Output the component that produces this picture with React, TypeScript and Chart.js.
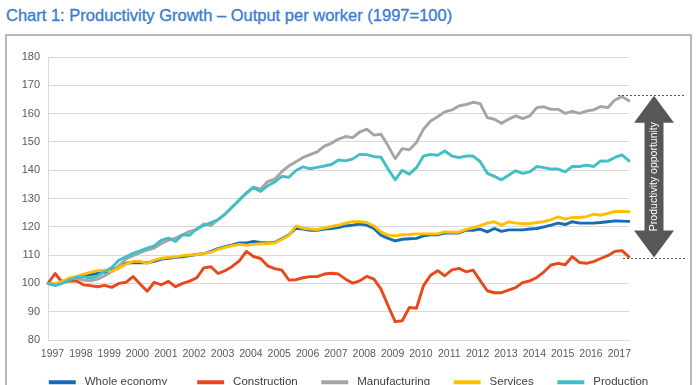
import { useEffect, useRef } from 'react';
import { Chart, registerables } from 'chart.js';

Chart.register(...registerables);

const TITLE = 'Chart 1: Productivity Growth \u2013 Output per worker (1997=100)';
const YEARS = ['1997', '1998', '1999', '2000', '2001', '2002', '2003', '2004', '2005', '2006', '2007', '2008', '2009', '2010', '2011', '2012', '2013', '2014', '2015', '2016', '2017'];
const QUARTER_NAMES = ['Q1', 'Q2', 'Q3', 'Q4'];
const QUARTERS = YEARS.flatMap((y) => QUARTER_NAMES.map((q) => `${y} ${q}`)).slice(0, 83);

const WHOLE_ECONOMY = [
  100, 99.5, 100.4, 101.5, 102.1, 102.7, 103.1, 103.5, 103.9, 104.7, 105.9, 107.1, 107.4, 107.3, 107.3, 107.8, 108.6, 108.9, 109.2, 109.4,
  109.8, 110.2, 110.5, 111.3, 112.3, 113, 113.6, 114.3, 114.3, 114.8, 114.5, 114.3, 114.5, 115.8, 117.2, 119.5, 119.2, 118.8, 118.8, 119.2,
  119.4, 119.7, 120.3, 120.6, 121, 120.6, 119.4, 117, 115.9, 115, 115.6, 115.8, 115.9, 116.8, 117.2, 117.2, 117.8, 117.8, 117.8, 118.8,
  118.8, 119.2, 118.2, 119.4, 118.4, 118.9, 118.9, 118.9, 119.2, 119.4, 120, 120.6, 121.3, 120.8, 121.8, 121.3, 121.3, 121.3, 121.5, 121.8,
  122.1, 122, 121.9,
];
const CONSTRUCTION = [
  100, 103.5, 100.4, 100.8, 100.9, 99.5, 99.2, 98.8, 99.3, 98.6, 100, 100.4, 102.4, 99.8, 97.2, 100.4, 99.5, 100.7, 98.8, 100,
  100.8, 102, 105.5, 105.9, 103.5, 104.5, 106, 108, 111.3, 109.5, 108.8, 106.2, 105.2, 104.7, 101.2, 101.3, 102, 102.4, 102.4, 103.3,
  103.6, 103.3, 101.5, 100.1, 100.9, 102.5, 101.5, 98, 92.1, 86.5, 86.8, 91.5, 91.2, 99.2, 102.9, 104.5, 102.7, 104.8, 105.3, 104.1,
  104.7, 101, 97.4, 96.7, 96.7, 97.6, 98.5, 100.3, 100.9, 102.1, 104.1, 106.5, 107.1, 106.6, 109.5, 107.4, 107.1, 107.7, 108.8, 109.8,
  111.3, 111.6, 109.4,
];
const MANUFACTURING = [
  100, 99.8, 100.4, 101.5, 101.9, 101.2, 100.9, 101.5, 102.7, 104.2, 106.2, 108.6, 109.8, 110.9, 111.8, 112.5, 114.1, 115.3, 116, 117.2,
  118.4, 119, 121, 120.5, 122.5, 124.5, 127, 129.5, 132, 134, 133.3, 136, 136.8, 139.5, 141.5, 143, 144.5, 145.5, 146.5, 148.5,
  149.5, 151, 151.9, 151.5, 153.5, 154.5, 152.4, 152.7, 148.6, 144.1, 147.6, 147.2, 149.8, 154.5, 157.4, 158.9, 160.6, 161.3, 162.7, 163.2,
  164, 163.5, 158.6, 158, 156.6, 158, 159.2, 158.2, 159.2, 162.1, 162.4, 161.5, 161.5, 160.1, 160.8, 160.1, 160.9, 161.3, 162.5, 162.1,
  164.8, 166, 164.5,
];
const SERVICES = [
  100, 99.8, 100.7, 101.9, 102.4, 103.3, 103.9, 104.5, 104.7, 104.2, 105.4, 106.8, 107.8, 107.8, 107.1, 108.2, 108.9, 109.2, 109.4, 109.8,
  110, 110.2, 110.5, 111, 112, 112.7, 113.3, 113.8, 113.5, 113.8, 114, 114, 114.3, 115.5, 117, 120.3, 119.5, 119.2, 119, 119.6,
  120.1, 120.6, 121.3, 121.8, 121.8, 121.5, 120.3, 118.2, 117, 116.8, 117.2, 117.3, 117.5, 117.5, 117.5, 117.5, 118.2, 118.1, 118.1, 119.1,
  119.6, 120.4, 121.3, 121.8, 120.6, 121.8, 121.3, 121.1, 121.1, 121.5, 121.8, 122.5, 123.5, 122.7, 123.3, 123.3, 123.6, 124.5, 124.1, 124.7,
  125.4, 125.4, 125.3,
];
const PRODUCTION = [
  100, 99.2, 100, 101.2, 102.1, 102.4, 101.9, 102.7, 104.2, 105.6, 108.2, 109.4, 110.6, 111.5, 112.5, 113.3, 115.3, 116, 114.8, 117.2,
  117, 119.3, 120.5, 121.5, 122.5, 124.5, 127, 129.5, 131.8, 134, 132.5, 134.5, 135.8, 137.8, 137.5, 139.9, 141.2, 140.5, 141, 141.5,
  142, 143.6, 143.3, 144, 145.6, 145.5, 144.8, 144.6, 140.4, 136.6, 140, 138.6, 140.9, 145, 145.6, 145.3, 146.8, 145, 144.5, 145,
  145, 143, 138.9, 137.8, 136.6, 138.2, 139.8, 138.9, 139.4, 141.3, 140.9, 140.4, 140.4, 139.4, 141.3, 141.3, 141.8, 141.3, 143.3, 143.2,
  144.5, 145.4, 143.3,
];

const SERIES_NAMES = ['Whole economy', 'Construction', 'Manufacturing', 'Services', 'Production'];
const SERIES_VALUES = [WHOLE_ECONOMY, CONSTRUCTION, MANUFACTURING, SERVICES, PRODUCTION];
const SERIES_COLORS = ['#136cb8', '#e8481c', '#a5a5a5', '#ffbf00', '#41bec6'];

const ARROW_RANGE = [108.8, 166.7];
const ARROW_LABEL = 'Productivity opportunity';

const FONT = "'Liberation Sans', Arial, sans-serif";
const LEGEND_LEAD = '\u00a0';
const LEGEND_GAPS = ['\u00a0'.repeat(5), '\u00a0'.repeat(3), '\u00a0'.repeat(3), '\u00a0'.repeat(3), ''];

const arrowPlugin = {
  id: 'productivityArrow',
  afterDraw(chart: any) {
    const { ctx, chartArea, scales } = chart;
    const y = scales.y;
    const top = y.getPixelForValue(ARROW_RANGE[1]);
    const bot = y.getPixelForValue(ARROW_RANGE[0]);
    const r = chartArea.right;
    const cx = r + 25;
    ctx.save();
    ctx.strokeStyle = '#595959';
    ctx.lineWidth = 1;
    ctx.setLineDash([2, 2]);
    ctx.beginPath();
    ctx.moveTo(r - 11, Math.round(top) + 0.5);
    ctx.lineTo(r + 56, Math.round(top) + 0.5);
    ctx.moveTo(r - 6, Math.round(bot) + 0.5);
    ctx.lineTo(r + 56, Math.round(bot) + 0.5);
    ctx.stroke();
    ctx.setLineDash([]);

    const headW = 20;
    const headH = 27;
    const shaftW = 9.5;
    const t = top + 1;
    const b = bot - 1;
    ctx.beginPath();
    ctx.moveTo(cx, t);
    ctx.lineTo(cx + headW, t + headH);
    ctx.lineTo(cx + shaftW, t + headH);
    ctx.lineTo(cx + shaftW, b - headH);
    ctx.lineTo(cx + headW, b - headH);
    ctx.lineTo(cx, b);
    ctx.lineTo(cx - headW, b - headH);
    ctx.lineTo(cx - shaftW, b - headH);
    ctx.lineTo(cx - shaftW, t + headH);
    ctx.lineTo(cx - headW, t + headH);
    ctx.closePath();
    ctx.fillStyle = '#575757';
    ctx.fill();

    ctx.translate(cx, (t + b) / 2);
    ctx.rotate(-Math.PI / 2);
    ctx.fillStyle = '#ffffff';
    ctx.font = `10.5px ${FONT}`;
    ctx.textAlign = 'center';
    ctx.textBaseline = 'middle';
    ctx.fillText(ARROW_LABEL, 0, 0.5);
    ctx.restore();
  },
};

export default function App() {
  const ref = useRef<HTMLCanvasElement | null>(null);

  useEffect(() => {
    if (!ref.current) return;
    Chart.defaults.font.family = FONT;
    const chart = new Chart(ref.current, {
      type: 'line',
      data: {
        labels: QUARTERS,
        datasets: SERIES_NAMES.map((name, i) => ({
          label: name,
          data: SERIES_VALUES[i],
          borderColor: SERIES_COLORS[i],
          backgroundColor: SERIES_COLORS[i],
          borderWidth: 2.9,
          pointRadius: 0,
          pointHoverRadius: 0,
          tension: 0,
          fill: false,
          borderJoinStyle: 'round' as const,
          borderCapStyle: 'round' as const,
          order: SERIES_NAMES.length - i,
          yAxisID: 'y',
        })),
      },
      options: {
        responsive: false,
        animation: false,
        devicePixelRatio: 1,
        layout: { padding: { left: 1, right: 0, top: 57, bottom: 0 } },
        plugins: {
          title: { display: false },
          tooltip: { enabled: false },
          legend: {
            display: true,
            position: 'bottom',
            labels: {
              boxWidth: 27,
              boxHeight: 4,
              padding: 14,
              color: '#404040',
              font: { size: 11.5, family: FONT },
              sort: (a: any, b: any) => a.datasetIndex - b.datasetIndex,
              generateLabels: (c: any) =>
                Chart.defaults.plugins.legend.labels
                  .generateLabels(c)
                  .map((l: any) => ({
                    ...l,
                    lineWidth: 0,
                    text: LEGEND_LEAD + l.text + LEGEND_GAPS[l.datasetIndex],
                  })),
            },
          },
        },
        scales: {
          x: {
            type: 'category',
            offset: false,
            grid: { display: false, drawTicks: false, tickLength: 0 },
            border: { display: true, color: '#d9d9d9', width: 1 },
            ticks: {
              autoSkip: false,
              maxRotation: 0,
              minRotation: 0,
              padding: 8,
              labelOffset: 4.5,
              color: '#595959',
              font: { size: 10.5, family: FONT },
              callback: (_v: any, index: number) => (index % 4 === 0 ? YEARS[index / 4] : null),
            },
            afterFit: (scale: any) => {
              scale.height = 22.5;
            },
          },
          y: {
            min: 80,
            max: 180,
            grid: { color: '#d9d9d9', lineWidth: 1, drawTicks: false },
            border: { display: true, color: '#d9d9d9', width: 1 },
            ticks: {
              stepSize: 10,
              padding: 8,
              color: '#595959',
              font: { size: 11, family: FONT },
            },
            afterFit: (scale: any) => {
              scale.width = 47;
            },
          },
          yRight: {
            type: 'linear',
            position: 'right',
            min: 80,
            max: 180,
            grid: { display: false, drawTicks: false },
            border: { display: false },
            ticks: { display: false },
            afterFit: (scale: any) => {
              scale.width = 67;
            },
          },
        },
      },
      plugins: [arrowPlugin],
    });
    return () => chart.destroy();
  }, []);

  return (
    <div style={{ position: 'absolute', left: 0, top: 0, width: 696, height: 398 }}>
      <div
        style={{
          position: 'absolute',
          left: 6,
          top: 6.6,
          fontFamily: FONT,
          fontSize: 16.5,
          lineHeight: '17px',
          color: '#3b7dd0',
          whiteSpace: 'nowrap',
          WebkitTextStroke: '0.35px #3b7dd0',
        }}
      >
        {TITLE}
      </div>
      <div
        style={{
          position: 'absolute',
          left: 5,
          top: 34,
          width: 687,
          height: 420,
          boxSizing: 'border-box',
          border: '2px solid #b8b8b8',
        }}
      />
      <canvas ref={ref} width={696} height={398} style={{ position: 'absolute', left: 0, top: 0 }} />
    </div>
  );
}
